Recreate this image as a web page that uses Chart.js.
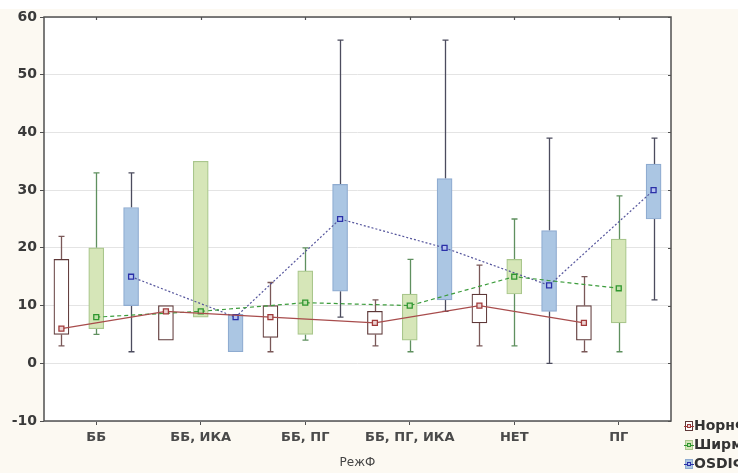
<!DOCTYPE html>
<html>
<head>
<meta charset="utf-8">
<script src="https://cdn.jsdelivr.net/npm/chart.js@4"></script>
<style>
  body { margin: 0; background: #ffffff; }
  #wrap { width: 738px; height: 473px; }
</style>
</head>
<body>
<div id="wrap"><canvas id="boxChart" width="738" height="473"></canvas></div>
<script>
// Categories and tick labels
const categories = ['ББ', 'ББ, ИКА', 'ББ, ПГ', 'ББ, ПГ, ИКА', 'НЕТ', 'ПГ'];
const seriesNames = ['НорнФ', 'ШирмФ', 'OSDIФ'];
const yTicks = [-10, 0, 10, 20, 30, 40, 50, 60];

// НорнФ
const nornMin = [3, 4, 2, 3, 3, 2];
const nornQ1  = [5, 4, 4.5, 5, 7, 4];
const nornMed = [6, 9, 8, 7, 10, 7];
const nornQ3  = [18, 10, 10, 9, 12, 10];
const nornMax = [22, 10, 14, 11, 17, 15];

// ШирмФ
const shirmMin = [5, 8, 4, 2, 3, 2];
const shirmQ1  = [6, 8, 5, 4, 12, 7];
const shirmMed = [8, 9, 10.5, 10, 15, 13];
const shirmQ3  = [20, 35, 16, 12, 18, 21.5];
const shirmMax = [33, 35, 20, 18, 25, 29];

// OSDIФ
const osdiMin = [2, 2, 8, 9, 0, 11];
const osdiQ1  = [10, 2, 12.5, 11, 9, 25];
const osdiMed = [15, 8, 25, 20, 13.5, 30];
const osdiQ3  = [27, 8.5, 31, 32, 23, 34.5];
const osdiMax = [33, 8.5, 56, 56, 39, 39];

const stats = [
    { min: nornMin, q1: nornQ1, med: nornMed, q3: nornQ3, max: nornMax },
    { min: shirmMin, q1: shirmQ1, med: shirmMed, q3: shirmQ3, max: shirmMax },
    { min: osdiMin, q1: osdiQ1, med: osdiMed, q3: osdiQ3, max: osdiMax }
];

const boxFill   = ['#ffffff', '#d6e6b8', '#abc6e3'];
const boxBorder = ['#5e3838', '#a9c68c', '#8eabd0'];
const whiskerColor = ['#7a5858', '#5f905f', '#4c4c5e'];
const lineColor = ['#a84c4c', '#3c9c3c', '#55559c'];
const markerFill = ['#ecd2d2', '#bfe0a8', '#b4c2ee'];
const markerStroke = ['#a03a3a', '#2f962f', '#2a30a8'];
const lineDash = [[], [4, 3], [2, 2]];
const slotOffset = [-1 / 3, 0, 1 / 3];

const FONT = '"DejaVu Sans", "Liberation Sans", Arial, sans-serif';

// box datasets (floating bars q1..q3), placed at category index + slot offset
let datasets = stats.map((s, d) => ({
    type: 'bar',
    label: seriesNames[d],
    data: s.q1.map((v, i) => ({ x: i + slotOffset[d], y: [v, s.q3[i]] })),
    backgroundColor: boxFill[d],
    borderColor: boxBorder[d],
    borderWidth: 1.2,
    borderSkipped: false,
    grouped: false,
    barThickness: 15,
    order: 2
}));

// median lines
stats.forEach((s, d) => {
    datasets.push({
        type: 'line',
        label: seriesNames[d] + ' median',
        data: s.med.map((v, i) => ({ x: i + slotOffset[d], y: v })),
        borderColor: lineColor[d],
        borderWidth: 1.2,
        borderDash: lineDash[d],
        pointStyle: 'rect',
        pointRadius: 3.5,
        pointBorderWidth: 1.3,
        pointBackgroundColor: markerFill[d],
        pointBorderColor: markerStroke[d],
        fill: false,
        tension: 0,
        order: 0
    });
});

// background + whiskers + frame + legend
const boxPlotExtras = {
    id: 'boxPlotExtras',
    beforeDraw(chart) {
        const ctx = chart.ctx;
        const a = chart.chartArea;
        ctx.save();
        ctx.fillStyle = '#fcf9f2';
        ctx.fillRect(0, 9, chart.width, chart.height - 9);
        ctx.fillStyle = '#ffffff';
        ctx.fillRect(a.left, a.top, a.right - a.left, a.bottom - a.top);
        ctx.restore();
    },
    beforeDatasetsDraw(chart) {
        const ctx = chart.ctx;
        const y = chart.scales.y;
        ctx.save();
        stats.forEach((s, d) => {
            const meta = chart.getDatasetMeta(d);
            ctx.strokeStyle = whiskerColor[d];
            ctx.lineWidth = 1.3;
            meta.data.forEach((el, i) => {
                const x = Math.round(el.x) + 0.5;
                if (s.max[i] > s.q3[i]) {
                    ctx.beginPath();
                    ctx.moveTo(x, y.getPixelForValue(s.q3[i]));
                    ctx.lineTo(x, y.getPixelForValue(s.max[i]));
                    ctx.moveTo(x - 3, y.getPixelForValue(s.max[i]));
                    ctx.lineTo(x + 3, y.getPixelForValue(s.max[i]));
                    ctx.stroke();
                }
                if (s.min[i] < s.q1[i]) {
                    ctx.beginPath();
                    ctx.moveTo(x, y.getPixelForValue(s.q1[i]));
                    ctx.lineTo(x, y.getPixelForValue(s.min[i]));
                    ctx.moveTo(x - 3, y.getPixelForValue(s.min[i]));
                    ctx.lineTo(x + 3, y.getPixelForValue(s.min[i]));
                    ctx.stroke();
                }
            });
        });
        ctx.restore();
    },
    afterDraw(chart) {
        const ctx = chart.ctx;
        const a = chart.chartArea;
        const x = chart.scales.x;
        const y = chart.scales.y;
        ctx.save();
        // frame
        ctx.strokeStyle = '#505050';
        ctx.lineWidth = 1.5;
        ctx.strokeRect(a.left, a.top, a.right - a.left, a.bottom - a.top);
        // inner ticks on top and right
        ctx.lineWidth = 1.2;
        ctx.beginPath();
        categories.forEach((c, i) => {
            const px = Math.round(x.getPixelForValue(i)) + 0.5;
            ctx.moveTo(px, a.top);
            ctx.lineTo(px, a.top + 3);
        });
        yTicks.forEach(v => {
            const py = Math.round(y.getPixelForValue(v)) + 0.5;
            ctx.moveTo(a.right, py);
            ctx.lineTo(a.right - 3, py);
        });
        ctx.stroke();

        // legend
        const lx = 685, rows = [425, 444, 463];
        ctx.font = 'bold 14px ' + FONT;
        ctx.textBaseline = 'middle';
        seriesNames.forEach((name, d) => {
            const ly = rows[d];
            // box symbol
            ctx.fillStyle = d === 0 ? '#ffffff' : boxFill[d];
            ctx.fillRect(lx, ly - 4, 7, 9);
            ctx.strokeStyle = d === 0 ? boxBorder[d] : boxBorder[d];
            ctx.lineWidth = 1;
            ctx.strokeRect(lx + 0.5, ly - 3.5, 7, 9);
            // line + marker
            ctx.strokeStyle = markerStroke[d];
            ctx.beginPath();
            ctx.moveTo(lx - 1, ly + 1.5);
            ctx.lineTo(lx + 9, ly + 1.5);
            ctx.stroke();
            ctx.fillStyle = markerFill[d];
            ctx.fillRect(lx + 2, ly - 1, 4, 4);
            ctx.strokeRect(lx + 2.5, ly - 0.5, 3, 3);
            ctx.fillStyle = '#333333';
            ctx.fillText(name, lx + 9, ly + 1);
        });
        ctx.restore();
    }
};

new Chart(document.getElementById('boxChart').getContext('2d'), {
    type: 'bar',
    data: { datasets: datasets },
    plugins: [boxPlotExtras],
    options: {
        responsive: false,
        animation: false,
        layout: { padding: { left: 0, right: 67, top: 17, bottom: 0 } },
        plugins: {
            legend: { display: false },
            tooltip: { enabled: false }
        },
        scales: {
            x: {
                type: 'linear',
                min: -0.5,
                max: 5.5,
                offset: false,
                afterBuildTicks(scale) {
                    scale.ticks = categories.map((c, i) => ({ value: i }));
                },
                grid: { drawOnChartArea: false, offset: false, tickLength: 4, tickColor: '#505050' },
                border: { display: false },
                ticks: {
                    color: '#4a4a4a',
                    font: { family: FONT, size: 13, weight: 'bold' },
                    padding: 5,
                    autoSkip: false,
                    maxRotation: 0,
                    callback: (v) => categories[v]
                },
                title: { display: true, text: 'РежФ', color: '#444', font: { family: FONT, size: 12 }, padding: { top: 0, bottom: 3 } },
                afterFit(scale) { scale.height = 52; }
            },
            y: {
                min: -10,
                max: 60,
                afterBuildTicks(scale) {
                    scale.ticks = yTicks.map(v => ({ value: v }));
                },
                ticks: { color: '#3a3a3a', font: { family: FONT, size: 14, weight: 'bold' }, padding: 3 },
                grid: { color: '#e4e4e4', lineWidth: 1, tickLength: 4, tickColor: '#505050' },
                border: { display: false },
                afterFit(scale) { scale.width = 44; }
            }
        }
    }
});
</script>
</body>
</html>
